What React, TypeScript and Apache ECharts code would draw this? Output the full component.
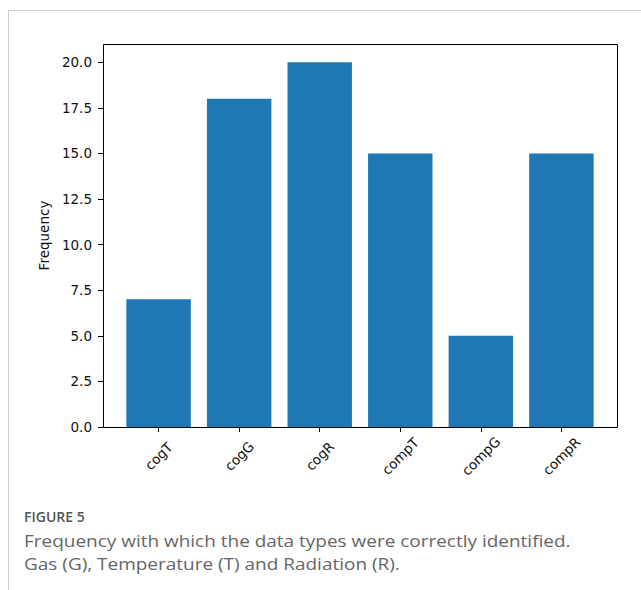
import React, { useEffect, useRef } from "react";
import * as echarts from "echarts";

// Frequency of correct identification per data type
const categories = ["cogT", "cogG", "cogR", "compT", "compG", "compR"];
const frequencies = [7, 18, 20, 15, 5, 15];
const yTicks = [0, 2.5, 5, 7.5, 10, 12.5, 15, 17.5, 20];

const captionTitle = "FIGURE 5";
const captionLines = [
  "Frequency with which the data types were correctly identified.",
  "Gas (G), Temperature (T) and Radiation (R).",
];

const W = 641;
const H = 590;

// plot frame (axes box) in pixels
const BOX_L = 103;
const BOX_R = 617;
const BOX_T = 44;
const BOX_B = 427;
// category span plus the outer margins of the bar axis
const X_SPAN = categories.length - 1 + 0.8 + 0.58;
const UNIT = (BOX_R - BOX_L) / X_SPAN;
const GRID_L = BOX_L + (0.69 - 0.5) * UNIT;
const GRID_W = categories.length * UNIT;

const AXIS_FONT = "DejaVu Sans";
const CAPTION_FONT = "Open Sans";

export default function App() {
  const ref = useRef<HTMLDivElement>(null);

  useEffect(() => {
    if (!ref.current) return;
    const chart = echarts.init(ref.current, null, { renderer: "svg" });
    chart.setOption({
      animation: false,
      backgroundColor: "#ffffff",
      grid: {
        left: GRID_L,
        width: GRID_W,
        top: BOX_T,
        bottom: H - BOX_B,
        containLabel: false,
      },
      xAxis: {
        type: "category",
        data: categories,
        axisLine: { show: false },
        axisTick: {
          show: true,
          alignWithLabel: true,
          length: 5,
          lineStyle: { color: "#000", width: 1 },
        },
        axisLabel: {
          rotate: 45,
          align: "center",
          verticalAlign: "middle",
          margin: 29,
          color: "#111",
          fontFamily: AXIS_FONT,
          fontSize: 13.5,
        },
        splitLine: { show: false },
      },
      yAxis: {
        type: "value",
        min: 0,
        max: 21,
        offset: GRID_L - BOX_L,
        name: "Frequency",
        nameLocation: "middle",
        nameRotate: 90,
        nameGap: 48,
        nameTextStyle: { color: "#111", fontFamily: AXIS_FONT, fontSize: 13.5 },
        axisLine: { show: false },
        axisTick: {
          show: true,
          length: 5,
          customValues: yTicks,
          lineStyle: { color: "#000", width: 1 },
        },
        axisLabel: {
          customValues: yTicks,
          formatter: (v: number) => v.toFixed(1),
          margin: 11,
          color: "#111",
          fontFamily: AXIS_FONT,
          fontSize: 13.5,
        },
        splitLine: { show: false },
      },
      series: [
        {
          type: "bar",
          data: frequencies,
          barWidth: "80%",
          itemStyle: { color: "#1f77b4" },
        },
      ],
      graphic: [
        {
          type: "line",
          shape: { x1: 8, y1: 10.5, x2: W, y2: 10.5 },
          style: { stroke: "#cfcfcf", lineWidth: 1 },
        },
        {
          type: "line",
          shape: { x1: 8.5, y1: 10, x2: 8.5, y2: H },
          style: { stroke: "#cfcfcf", lineWidth: 1 },
        },
        {
          type: "rect",
          z: 100,
          shape: {
            x: BOX_L + 0.5,
            y: BOX_T + 0.5,
            width: BOX_R - BOX_L,
            height: BOX_B - BOX_T,
          },
          style: { fill: "none", stroke: "#000", lineWidth: 1 },
        },
        {
          type: "text",
          x: 24,
          y: 516,
          style: {
            text: captionTitle,
            fill: "#555",
            font: `600 14px "${CAPTION_FONT}"`,
            verticalAlign: "middle",
          },
        },
        ...captionLines.map((t, i) => ({
          type: "text",
          x: 24,
          y: 540 + i * 23,
          scaleX: 1.13,
          style: {
            text: t,
            fill: "#666",
            font: `16.8px "${CAPTION_FONT}"`,
            verticalAlign: "middle",
          },
        })),
      ],
    });
    return () => chart.dispose();
  }, []);

  return (
    <div
      ref={ref}
      style={{ position: "fixed", left: 0, top: 0, width: W, height: H }}
    />
  );
}
